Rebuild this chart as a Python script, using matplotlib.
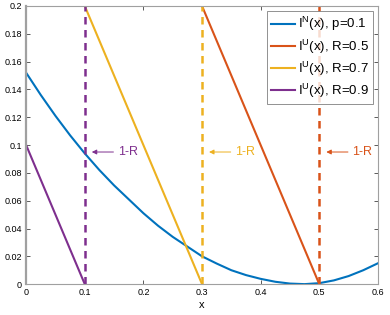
import numpy as np
import matplotlib.pyplot as plt

# values
x_n = [0, 0.025, 0.05, 0.075, 0.1, 0.125, 0.15, 0.175, 0.2, 0.225, 0.25, 0.275,
       0.3, 0.325, 0.35, 0.375, 0.4, 0.425, 0.45, 0.475, 0.5, 0.525, 0.55, 0.575, 0.6]
y_n = [0.152, 0.136, 0.121, 0.107, 0.094, 0.082, 0.071, 0.061, 0.051, 0.042,
       0.034, 0.027, 0.020, 0.0148, 0.0100, 0.0065, 0.0038, 0.0017, 0.0004, 0.0,
       0.0007, 0.0027, 0.0058, 0.0100, 0.0150]

rates = [0.5, 0.7, 0.9]
x_u = [[0.3, 0.5], [0.1, 0.3], [0.0, 0.1]]
y_u = [[0.2, 0.0], [0.2, 0.0], [0.1, 0.0]]
one_minus_r = [0.5, 0.3, 0.1]

c_blue = '#0072BD'
c_u = ['#D95319', '#EDB120', '#7E2F8E']

plt.rcParams['font.family'] = ['Liberation Sans', 'DejaVu Sans']
plt.rcParams['mathtext.fontset'] = 'custom'
plt.rcParams['mathtext.rm'] = 'Liberation Sans'

fig = plt.figure(figsize=(3.9, 3.15), dpi=100)
ax = fig.add_axes([0.067, 0.098, 0.902, 0.883])

ax.plot(x_n, y_n, color=c_blue, lw=1.5, label=r'I$^{\rm N}$(x), p=0.1')
for i in range(3):
    ax.plot(x_u[i], y_u[i], color=c_u[i], lw=1.5,
            label=r'I$^{\rm U}$(x), R=%.1f' % rates[i])

for i in range(3):
    ax.plot([one_minus_r[i], one_minus_r[i]], [0, 0.2], color=c_u[i], lw=1.8,
            ls=(0, (3, 2.2)))
    ax.annotate('1-R', xy=(one_minus_r[i] + 0.012, 0.095),
                xytext=(one_minus_r[i] + 0.056, 0.095), color=c_u[i],
                fontsize=9, ha='left', va='center',
                arrowprops=dict(arrowstyle='-|>', color=c_u[i], lw=0.7,
                                mutation_scale=7, shrinkA=1, shrinkB=0))

ax.set_xlim(0, 0.6)
ax.set_ylim(0, 0.2)
ax.set_xticks(np.arange(0, 0.61, 0.1))
ax.set_xticklabels(['0', '0.1', '0.2', '0.3', '0.4', '0.5', '0.6'])
ax.set_yticks(np.arange(0, 0.201, 0.02))
ax.set_yticklabels(['0', '0.02', '0.04', '0.06', '0.08', '0.1', '0.12', '0.14',
                    '0.16', '0.18', '0.2'])
ax.tick_params(direction='in', top=True, right=True, labelsize=6.5,
               length=3, width=0.6, color='#404040', pad=3)
for s in ax.spines.values():
    s.set_color('#a0a0a0')
    s.set_linewidth(0.8)
ax.spines['left'].set_linewidth(1.6)
ax.set_xlabel('x', fontsize=8, labelpad=2)

leg = ax.legend(loc='upper right', fontsize=9.5, handlelength=1.8,
                handletextpad=0.2, labelspacing=0.3, borderpad=0.3,
                fancybox=False, borderaxespad=0.4)
leg.get_frame().set_edgecolor('#606060')
leg.get_frame().set_linewidth(0.6)

fig.savefig('out.png', dpi=100)
